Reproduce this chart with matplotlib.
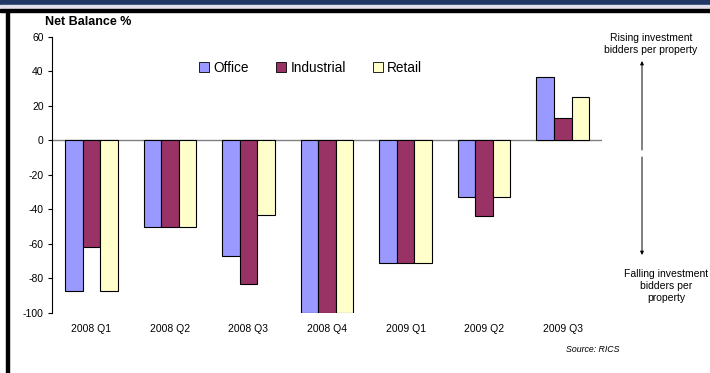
import matplotlib.pyplot as plt
import numpy as np
from matplotlib.patches import Rectangle, FancyArrowPatch
plt.rcParams['font.family'] = ['Liberation Sans', 'DejaVu Sans']

quarters = ['2008 Q1', '2008 Q2', '2008 Q3', '2008 Q4', '2009 Q1', '2009 Q2', '2009 Q3']
office = [-87, -50, -67, -100, -71, -33, 37]
industrial = [-62, -50, -83, -100, -71, -44, 13]
retail = [-87, -50, -43, -100, -71, -33, 25]
series_names = ['Office', 'Industrial', 'Retail']
yticks = [60, 40, 20, 0, -20, -40, -60, -80, -100]

colors = ['#9999FF', '#993366', '#FFFFCC']

fig = plt.figure(figsize=(7.1, 3.73), dpi=100)
ax = fig.add_axes([0.0732, 0.161, 0.7748, 0.740])

x = np.arange(len(quarters))
w = 0.223
for i, (vals, name) in enumerate(zip([office, industrial, retail], series_names)):
    ax.bar(x + (i - 1) * w, vals, width=w, color=colors[i], edgecolor='black',
           linewidth=0.8, label=name, zorder=3)

ax.set_xlim(-0.5, len(quarters) - 0.5)
ax.set_ylim(-100, 60)
ax.set_yticks(yticks)
ax.set_yticklabels([str(v) for v in yticks], fontsize=7.5)
ax.set_xticks(x)
ax.set_xticklabels(quarters, fontsize=7.5)
ax.tick_params(axis='x', length=0, pad=8)
ax.tick_params(axis='y', length=3, width=0.8, pad=3)
for s in ['top', 'right', 'bottom']:
    ax.spines[s].set_visible(False)
ax.spines['left'].set_linewidth(0.8)
ax.axhline(0, color='#808080', linewidth=1, zorder=2)

leg = ax.legend(loc='center left', bbox_to_anchor=(0.255, 0.888), ncol=3, frameon=False,
                fontsize=9.8, handlelength=0.75, handleheight=0.75, handletextpad=0.3,
                columnspacing=2.0, borderpad=0)
for h in leg.legend_handles:
    h.set_linewidth(0.6)

fig.text(45 / 710, 1 - 22 / 373, 'Net Balance %', fontsize=9, fontweight='bold',
         va='center', ha='left')

# frame: navy band, lavender strip, black rule, left border
fig.add_artist(Rectangle((0, 1 - 5 / 373), 1, 5 / 373, transform=fig.transFigure,
                         color='#1F3864', zorder=0))
fig.add_artist(Rectangle((0, 1 - 9 / 373), 1, 4 / 373, transform=fig.transFigure,
                         color='#E4DFEC', zorder=0))
fig.add_artist(Rectangle((0, 1 - 12 / 373), 1, 3 / 373, transform=fig.transFigure,
                         color='black', zorder=0))
fig.add_artist(Rectangle((6 / 710, 0), 3 / 710, 1 - 12 / 373, transform=fig.transFigure,
                         color='black', zorder=0))

# side arrows
ax_x = 642 / 710
fig.add_artist(FancyArrowPatch((ax_x, 1 - 150 / 373), (ax_x, 1 - 61 / 373),
                               transform=fig.transFigure, arrowstyle='-|>',
                               mutation_scale=5, color='black', linewidth=0.7,
                               shrinkA=0, shrinkB=0))
fig.add_artist(FancyArrowPatch((ax_x, 1 - 157 / 373), (ax_x, 1 - 255 / 373),
                               transform=fig.transFigure, arrowstyle='-|>',
                               mutation_scale=5, color='black', linewidth=0.7,
                               shrinkA=0, shrinkB=0))

fig.text(651 / 710, 1 - 44 / 373, 'Rising investment\nbidders per property', fontsize=7.5,
         ha='center', va='center', linespacing=1.2)
fig.text(666 / 710, 1 - 286 / 373, 'Falling investment\nbidders per\nproperty', fontsize=7.5,
         ha='center', va='center', linespacing=1.2)
fig.text(620 / 710, 1 - 350 / 373, 'Source: RICS', fontsize=6.3, style='italic',
         ha='right', va='center')

fig.savefig('out.png', dpi=100)
